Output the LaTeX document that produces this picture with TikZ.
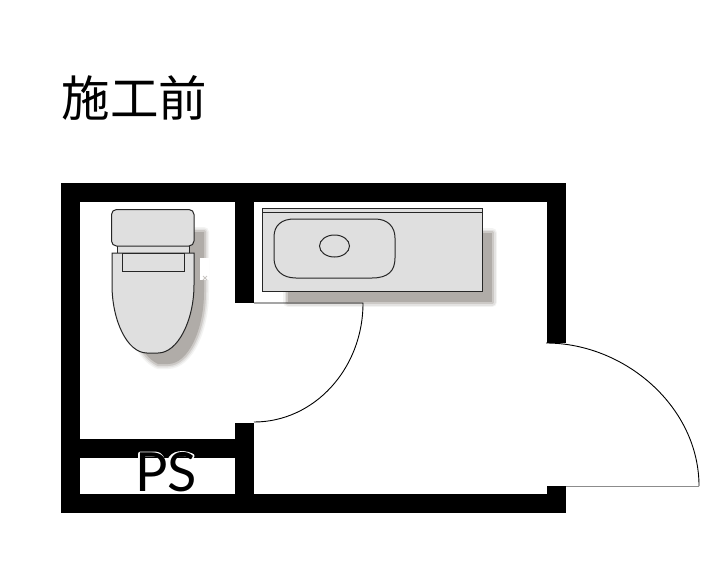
\documentclass[tikz,border=0pt]{standalone}
\usepackage{fontspec}
\newfontfamily\cjk{Noto Sans CJK JP}
\setsansfont{Lato}
\definecolor{shadowcore}{HTML}{B0ACA8}
\definecolor{fixture}{HTML}{DFDFDF}
\tikzset{
  wall/.style={fill=black,draw=none},
  fixt/.style={fill=fixture,draw=black!85,line width=1pt},
  outline/.style={draw=black!85,line width=1pt},
  doorline/.style={draw=black,line width=0.9pt},
}
\newcommand{\softshadow}[1]{%
  \draw[draw=shadowcore!15,line width=10pt,line join=round] #1;
  \draw[draw=shadowcore!35,line width=7pt,line join=round] #1;
  \draw[draw=shadowcore!65,line width=4pt,line join=round] #1;
  \fill[shadowcore] #1;
}
\begin{document}
\begin{tikzpicture}[x=1pt,y=-1pt]
\useasboundingbox (0,0) rectangle (725,565);
\fill[white] (0,0) rectangle (725,565);
% title
\node[anchor=center,inner sep=0pt] (title) at (134.5,98) {\cjk\fontsize{48.5}{48.5}\selectfont 施工前};
% shadows
\softshadow{(288,233) rectangle (492,302)}
\softshadow{(150,240) -- (150,232) -- (204,232) -- (204,292) .. controls (204,330) and (188,364) .. (168,364) -- (158,364) .. controls (140,355) and (130,330) .. (130,300) -- cycle}
\fill[white] (200,258) rectangle (209,280);
\draw[shadowcore!70,line width=0.8pt] (203,276) -- (207,280) (207,276) -- (203,280);
% walls
\fill[wall] (61,183) rectangle (566,202);
\fill[wall] (61,183) rectangle (80,513);
\fill[wall] (61,494) rectangle (566,513);
\fill[wall] (547,183) rectangle (566,343);
\fill[wall] (547,486) rectangle (566,513);
\fill[wall] (235,183) rectangle (254,303);
\fill[wall] (235,423) rectangle (254,513);
\fill[wall] (61,439) rectangle (254,458);
% doors
\draw[doorline] (254,303) -- (363,303) .. controls (363,369) and (314,422) .. (254,422);
\draw[doorline] (546,343) .. controls (625,343) and (699,407) .. (699,486);
\draw[draw=black!45,line width=1pt] (566,486) -- (699,486);
% basin counter
\draw[fixt] (262.5,208.5) rectangle (482.5,291.5);
\draw[outline] (262.5,212.5) -- (482.5,212.5);
\draw[fixt] (274,237) .. controls (274,225) and (282,219) .. (294,219) -- (375,219) .. controls (388,219) and (395,227) .. (395,238) -- (395,258) .. controls (395,271) and (388,278) .. (372,278) -- (296,278) .. controls (282,278) and (274,270) .. (274,258) -- cycle;
\draw[fixt] (334.5,246) ellipse [x radius=15,y radius=11];
% toilet
\draw[fixt] (117,244) rectangle (189,255);
\draw[fixt] (112,253) -- (194,253) -- (194,285) .. controls (194,320) and (178,353) .. (158,353) -- (147,353) .. controls (127,353) and (112,320) .. (112,285) -- cycle;
\draw[fixt] (122,253) rectangle (184,271);
\draw[fixt,rounded corners=5pt] (111.5,209.5) rectangle (194,246);
% PS halo and label
\draw[white,line width=5pt,line cap=round,line join=round] (140.5,454) -- (140.5,490) (140.5,454) -- (155,454) .. controls (166,454) and (166,475) .. (152,475) -- (140.5,475);
\draw[white,line width=5pt,line cap=round,line join=round] (192,456) .. controls (180,450) and (168,456) .. (170,464) .. controls (172,473) and (193,472) .. (193,482) .. controls (193,492) and (176,493) .. (167,487);
\node[anchor=center,inner sep=0pt] (ps) at (166,472.5) {\sffamily\fontsize{54}{54}\selectfont PS};
\end{tikzpicture}
\end{document}
